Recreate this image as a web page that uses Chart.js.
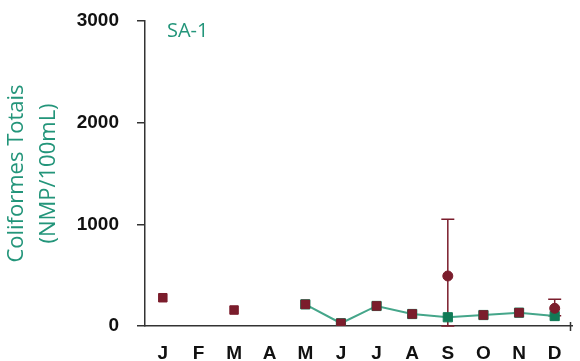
<!DOCTYPE html>
<html>
<head>
<meta charset="utf-8">
<script src="https://cdn.jsdelivr.net/npm/chart.js@4/dist/chart.umd.min.js"></script>
<style>
    html, body { margin: 0; padding: 0; background: #fff; }
    #wrap { width: 580px; height: 361px; position: relative; }
</style>
</head>
<body>
<div id="wrap"><canvas id="chart"></canvas></div>
<script>
const months = ['J', 'F', 'M', 'A', 'M', 'J', 'J', 'A', 'S', 'O', 'N', 'D'];
const yTicks = [0, 1000, 2000, 3000];

// linha verde (quadrados)
const greenLine = [null, null, null, null, 213, 27, 197, 118, 86, 108, 131, 98];
// quadrados vermelhos
const redSquares = [278, null, 157, null, 213, 27, 197, 118, null, 108, 131, null];
// círculos vermelhos com barras de erro
const redCircles = [null, null, null, null, null, null, null, null, 492, null, null, 174];
const errHigh = [null, null, null, null, null, null, null, null, 1050, null, null, 262];
const errLow = [null, null, null, null, null, null, null, null, 0, null, null, 100];

const stationLabel = 'SA-1';

const GREEN_LINE = '#45a68a';
const GREEN_MARK = '#117a56';
const RED = '#7b1d2c';
const TEAL_TEXT = '#23957a';

const errorBars = {
    id: 'errorBars',
    beforeDatasetsDraw(chart) {
        const ctx = chart.ctx;
        const x = chart.scales.x;
        const y = chart.scales.y;
        ctx.save();
        ctx.strokeStyle = RED;
        ctx.lineWidth = 1.5;
        redCircles.forEach(function(v, i) {
            if (v === null) return;
            const px = x.getPixelForValue(i);
            const top = y.getPixelForValue(errHigh[i]);
            const bot = y.getPixelForValue(errLow[i]);
            ctx.beginPath();
            ctx.moveTo(px, top);
            ctx.lineTo(px, bot);
            ctx.moveTo(px - 6.5, top);
            ctx.lineTo(px + 6.5, top);
            ctx.moveTo(px - 6.5, bot);
            ctx.lineTo(px + 6.5, bot);
            ctx.stroke();
        });
        ctx.restore();
    },
    afterDraw(chart) {
        const ctx = chart.ctx;
        const area = chart.chartArea;
        ctx.save();
        // etiqueta da estação
        ctx.fillStyle = TEAL_TEXT;
        ctx.font = '20px "Open Sans"';
        ctx.textBaseline = 'alphabetic';
        ctx.fillText(stationLabel, 167, 37);
        // marca no fim do eixo x
        ctx.strokeStyle = '#333';
        ctx.lineWidth = 1.5;
        ctx.beginPath();
        ctx.moveTo(area.right - 2, area.bottom - 4);
        ctx.lineTo(area.right - 2, area.bottom + 5);
        ctx.stroke();
        ctx.restore();
    }
};

new Chart(document.getElementById('chart'), {
    type: 'line',
    data: {
        labels: months,
        datasets: [{
            label: 'circles',
            data: redCircles,
            showLine: false,
            pointStyle: 'circle',
            pointRadius: 5,
            pointBackgroundColor: RED,
            pointBorderColor: RED,
            pointBorderWidth: 1
        }, {
            label: 'squares',
            data: redSquares,
            showLine: false,
            pointStyle: 'rect',
            pointRadius: 6,
            pointBackgroundColor: RED,
            pointBorderColor: RED,
            pointBorderWidth: 1
        }, {
            label: 'green',
            data: greenLine,
            borderColor: GREEN_LINE,
            borderWidth: 2,
            tension: 0,
            pointStyle: 'rect',
            pointRadius: 6.5,
            pointBackgroundColor: GREEN_MARK,
            pointBorderColor: GREEN_MARK,
            pointBorderWidth: 1
        }]
    },
    options: {
        responsive: true,
        maintainAspectRatio: false,
        animation: false,
        layout: { padding: { top: 21, right: 0, bottom: 0, left: 0 } },
        plugins: {
            legend: { display: false },
            tooltip: { enabled: false }
        },
        scales: {
            x: {
                offset: true,
                grid: { display: false, drawTicks: false },
                border: { display: true, color: '#333', width: 1.5 },
                ticks: {
                    color: '#111',
                    padding: 16,
                    font: { family: '"Liberation Sans", Arial, sans-serif', size: 19, weight: 'bold' }
                },
                afterFit(scale) { scale.height = 35; }
            },
            y: {
                min: 0,
                max: 3000,
                afterBuildTicks(scale) { scale.ticks = yTicks.map(v => ({ value: v })); },
                grid: { drawOnChartArea: false, drawTicks: true, tickLength: 8, color: '#333', lineWidth: 1.5 },
                border: { display: true, color: '#333', width: 1.5 },
                ticks: {
                    color: '#111',
                    padding: 18,
                    callback: function(value) { return String(value); },
                    font: { family: '"Liberation Sans", Arial, sans-serif', size: 19, weight: 'bold' }
                },
                title: {
                    display: true,
                    text: ['Coliformes Totais', '(NMP/100mL)'],
                    color: TEAL_TEXT,
                    padding: { top: 1, bottom: 0 },
                    font: { family: '"Open Sans", sans-serif', size: 22, lineHeight: 1.45 }
                },
                afterFit(scale) {
                    scale.width = 145;
                    scale.paddingTop = 0;
                    scale.paddingBottom = 0;
                }
            }
        }
    },
    plugins: [errorBars]
});
</script>
</body>
</html>
